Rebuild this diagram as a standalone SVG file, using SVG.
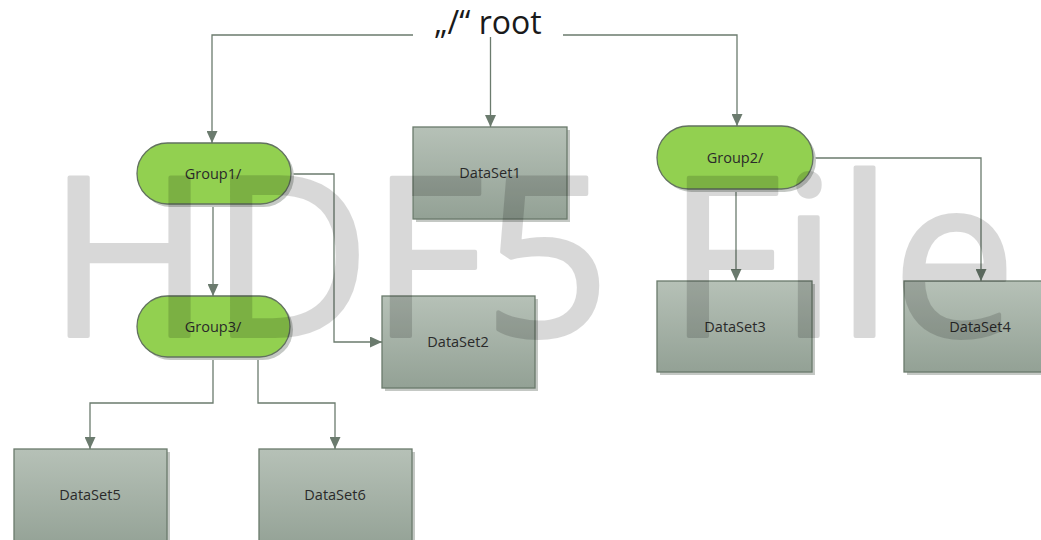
<svg xmlns="http://www.w3.org/2000/svg" width="1041" height="540" viewBox="0 0 1041 540">
  <defs>
    <linearGradient id="boxGrad" x1="0" y1="0" x2="0" y2="1">
      <stop offset="0" stop-color="#b6c1b7"/>
      <stop offset="1" stop-color="#93a195"/>
    </linearGradient>
    <marker id="arrow" markerUnits="userSpaceOnUse" viewBox="0 0 12 11" markerWidth="12" markerHeight="11" refX="12" refY="5.5" orient="auto">
      <path d="M0,0 L12,5.5 L0,11 z" fill="#6b7b6e"/>
    </marker>
    <style>
      .conn { fill: none; stroke: #6b7b6e; stroke-width: 1.3; marker-end: url(#arrow); }
      .box { fill: url(#boxGrad); stroke: #6a7a6c; stroke-width: 1.3; }
      .pill { fill: #92d050; stroke: #62725f; stroke-width: 1.3; }
      .shadow { fill: #c4c8c4; }
      .lbl { font-family: "Open Sans", "Noto Sans", sans-serif; font-size: 14.5px; fill: #2a2a2a; text-anchor: middle; }
    </style>
  </defs>
  <rect width="1041" height="540" fill="#ffffff"/>

  <g id="connectors">
    <path class="conn" d="M413,35 H212 V143"/>
    <path class="conn" d="M490.5,37 V127"/>
    <path class="conn" d="M563,35 H737 V126"/>
    <path class="conn" d="M213,204 V296"/>
    <path class="conn" d="M291,174 H334 V342 H382"/>
    <path class="conn" d="M213,357 V403 H90 V449"/>
    <path class="conn" d="M258,357 V403 H335 V449"/>
    <path class="conn" d="M736,189 V281"/>
    <path class="conn" d="M813,158 H981 V281"/>
  </g>

  <g id="root">
    <text x="488" y="34" font-family="Open Sans, Noto Sans, sans-serif" font-size="32" fill="#1a1a1a" text-anchor="middle">„/“ root</text>
  </g>

  <g id="group1">
    <rect class="shadow" x="140" y="146" width="154" height="61" rx="30.5"/>
    <rect class="pill" x="137" y="143" width="154" height="61" rx="30.5"/>
    <text class="lbl" x="213" y="179">Group1/</text>
  </g>
  <g id="group3">
    <rect class="shadow" x="140" y="299" width="153" height="61" rx="30.5"/>
    <rect class="pill" x="137" y="296" width="153" height="61" rx="30.5"/>
    <text class="lbl" x="213" y="332">Group3/</text>
  </g>
  <g id="group2">
    <rect class="shadow" x="660" y="129" width="156" height="63" rx="31.5"/>
    <rect class="pill" x="657" y="126" width="156" height="63" rx="31.5"/>
    <text class="lbl" x="735" y="163">Group2/</text>
  </g>

  <g id="dataset1">
    <rect class="shadow" x="416" y="130" width="154" height="92"/>
    <rect class="box" x="413" y="127" width="154" height="92"/>
    <text class="lbl" x="490" y="178">DataSet1</text>
  </g>
  <g id="dataset2">
    <rect class="shadow" x="385" y="299" width="153" height="92"/>
    <rect class="box" x="382" y="296" width="153" height="92"/>
    <text class="lbl" x="458" y="347">DataSet2</text>
  </g>
  <g id="dataset3">
    <rect class="shadow" x="660" y="284" width="155" height="91"/>
    <rect class="box" x="657" y="281" width="155" height="91"/>
    <text class="lbl" x="735" y="332">DataSet3</text>
  </g>
  <g id="dataset4">
    <rect class="shadow" x="907" y="284" width="160" height="91"/>
    <rect class="box" x="904" y="281" width="160" height="91"/>
    <text class="lbl" x="980" y="332">DataSet4</text>
  </g>
  <g id="dataset5">
    <rect class="shadow" x="17" y="452" width="153" height="100"/>
    <rect class="box" x="14" y="449" width="153" height="100"/>
    <text class="lbl" x="90" y="500">DataSet5</text>
  </g>
  <g id="dataset6">
    <rect class="shadow" x="262" y="452" width="153" height="100"/>
    <rect class="box" x="259" y="449" width="153" height="100"/>
    <text class="lbl" x="335" y="500">DataSet6</text>
  </g>

  <g id="watermark" opacity="0.15">
    <text x="48" y="336" font-family="Open Sans, Noto Sans, sans-serif" font-size="222" fill="#000000" stroke="#000000" stroke-width="4" stroke-linejoin="round" textLength="968" lengthAdjust="spacingAndGlyphs">HDF5 File</text>
  </g>
</svg>
